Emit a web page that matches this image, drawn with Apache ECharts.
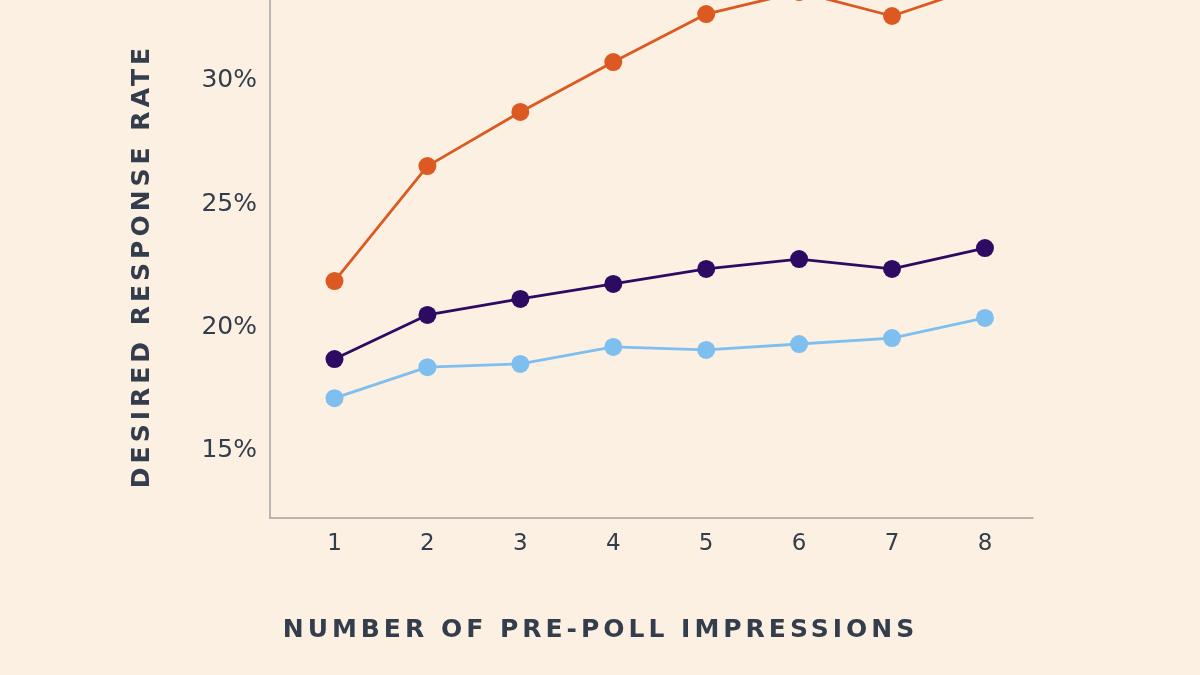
<!DOCTYPE html>
<html>
<head>
<meta charset="utf-8">
<script src="https://cdn.jsdelivr.net/npm/echarts@6/dist/echarts.min.js"></script>
<style>
html,body{margin:0;padding:0;background:#fcf0e3;}
#chart{width:1200px;height:675px;}
</style>
</head>
<body>
<div id="chart"></div>
<script>
// Tracking (letter spacing) for the bold axis titles
(function(){
  var orig = CanvasRenderingContext2D.prototype.fillText;
  CanvasRenderingContext2D.prototype.fillText = function(t,x,y,m){
    if (this.font && this.font.indexOf('bold') >= 0) {
      var prev = this.letterSpacing;
      this.letterSpacing = '4px';
      var r = m === undefined ? orig.call(this,t,x,y) : orig.call(this,t,x,y,m);
      this.letterSpacing = prev || '0px';
      return r;
    }
    return m === undefined ? orig.call(this,t,x,y) : orig.call(this,t,x,y,m);
  };
})();

const impressions = [1, 2, 3, 4, 5, 6, 7, 8];
const seriesOrange = [21.87, 26.54, 28.74, 30.77, 32.72, 33.62, 32.64, 33.91];
const seriesPurple = [18.70, 20.49, 21.14, 21.75, 22.36, 22.76, 22.36, 23.21];
const seriesBlue   = [17.11, 18.37, 18.50, 19.19, 19.07, 19.31, 19.55, 20.37];
const yTicks = [15, 20, 25, 30];
const xTicks = [1, 2, 3, 4, 5, 6, 7, 8];

const textColor = '#333d4c';
const axisColor = '#a3a3a3';

function pairs(vals){ return impressions.map((x,i)=>[x, vals[i]]); }

function lineSeries(name, vals, color){
  return {
    name: name, type: 'line', data: pairs(vals),
    symbol: 'circle', symbolSize: 18,
    lineStyle: {color: color, width: 2.8},
    itemStyle: {color: color},
    clip: false, animation: false
  };
}

const chart = echarts.init(document.getElementById('chart'));
chart.setOption({
  backgroundColor: '#fcf0e3',
  animation: false,
  grid: {left: 270, right: 167, top: 0, bottom: 157},
  xAxis: {
    type: 'value', min: 0.306, max: 8.517,
    axisLine: {show: true, lineStyle: {color: axisColor, width: 1.5}},
    axisTick: {show: false},
    splitLine: {show: false},
    axisLabel: {customValues: xTicks, color: textColor, fontFamily: 'DejaVu Sans', fontSize: 23, margin: 15},
    name: 'NUMBER OF PRE-POLL IMPRESSIONS',
    nameLocation: 'middle', nameGap: 100,
    nameTextStyle: {color: textColor, fontFamily: 'DejaVu Sans', fontWeight: 'bold', fontSize: 25, padding: [0, 102, 0, 0]}
  },
  yAxis: {
    type: 'value', min: 12.24, max: 33.29,
    axisLine: {show: true, lineStyle: {color: axisColor, width: 1.5}},
    axisTick: {show: false},
    splitLine: {show: false},
    axisLabel: {customValues: yTicks, formatter: '{value}%', color: textColor, fontFamily: 'DejaVu Sans', fontSize: 25, margin: 13},
    name: 'DESIRED RESPONSE RATE',
    nameLocation: 'middle', nameGap: 115,
    nameTextStyle: {color: textColor, fontFamily: 'DejaVu Sans', fontWeight: 'bold', fontSize: 25, padding: [0, 14, 0, 0]}
  },
  series: [
    lineSeries('Orange', seriesOrange, '#dc5a22'),
    lineSeries('Purple', seriesPurple, '#2e0b62'),
    lineSeries('Light blue', seriesBlue, '#7ebfef')
  ]
});
</script>
</body>
</html>
